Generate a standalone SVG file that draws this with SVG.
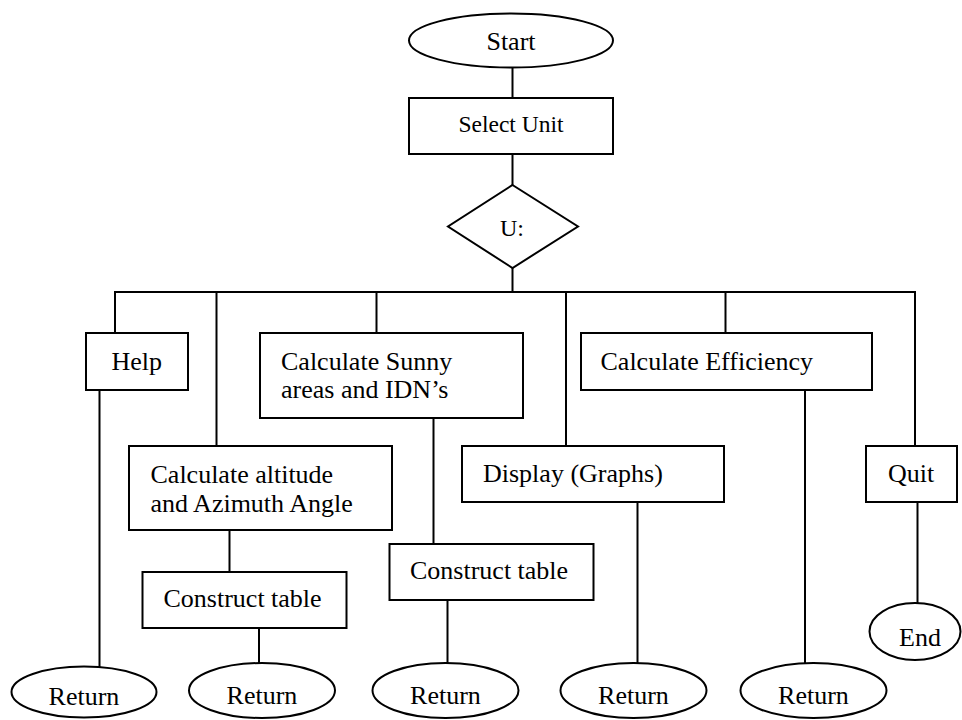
<svg xmlns="http://www.w3.org/2000/svg" width="962" height="720" viewBox="0 0 962 720">
<style>
.s{fill:#fff;stroke:#000;stroke-width:2}
.c line{stroke:#000;stroke-width:2}
text{font-family:"Liberation Serif","Times New Roman",serif;font-size:26px;fill:#000}
.m{text-anchor:middle}
</style>
<rect width="962" height="720" fill="#fff"/>
<g class="c" id="connectors">
<line x1="512.5" y1="67" x2="512.5" y2="98"/>
<line x1="512.5" y1="154" x2="512.5" y2="185"/>
<line x1="512.5" y1="268" x2="512.5" y2="292"/>
<line x1="114" y1="292" x2="916" y2="292"/>
<line x1="115" y1="292" x2="115" y2="333"/>
<line x1="216.5" y1="292" x2="216.5" y2="446"/>
<line x1="376.5" y1="292" x2="376.5" y2="333"/>
<line x1="566" y1="292" x2="566" y2="446"/>
<line x1="725.5" y1="292" x2="725.5" y2="333"/>
<line x1="915" y1="292" x2="915" y2="446"/>
<line x1="99.5" y1="390" x2="99.5" y2="667"/>
<line x1="229.5" y1="530" x2="229.5" y2="572"/>
<line x1="259" y1="628" x2="259" y2="663"/>
<line x1="433.5" y1="418" x2="433.5" y2="544"/>
<line x1="447.5" y1="600" x2="447.5" y2="663"/>
<line x1="637.5" y1="502" x2="637.5" y2="663"/>
<line x1="805" y1="390" x2="805" y2="663"/>
<line x1="917.5" y1="502" x2="917.5" y2="603"/>
</g>
<g id="start"><ellipse class="s" cx="511" cy="40.5" rx="102" ry="27"/><text class="m" x="511" y="50">Start</text></g>
<g id="select-unit"><rect class="s" x="409" y="98" width="204" height="56"/><text class="m" x="511" y="132" style="font-size:23.5px">Select Unit</text></g>
<g id="decision"><polygon class="s" points="512.5,185 578,226.5 512.5,268 448,226.5"/><text class="m" x="512" y="236" style="font-size:24px">U:</text></g>
<g id="help"><rect class="s" x="86" y="333" width="102" height="57"/><text x="111.5" y="370">Help</text></g>
<g id="calc-sunny"><rect class="s" x="260" y="333" width="263" height="85"/><text x="281" y="370">Calculate Sunny</text><text x="281" y="398">areas and IDN’s</text></g>
<g id="calc-eff"><rect class="s" x="581" y="333" width="291" height="57"/><text x="600.5" y="370">Calculate Efficiency</text></g>
<g id="calc-alt"><rect class="s" x="129" y="446" width="263" height="84"/><text x="150.5" y="483">Calculate altitude</text><text x="150.5" y="512">and Azimuth Angle</text></g>
<g id="display"><rect class="s" x="462" y="446" width="262" height="56"/><text x="483" y="482">Display (Graphs)</text></g>
<g id="quit"><rect class="s" x="866" y="446" width="91" height="56"/><text x="888" y="482">Quit</text></g>
<g id="construct1"><rect class="s" x="142.5" y="572" width="204" height="56"/><text x="163.5" y="607">Construct table</text></g>
<g id="construct2"><rect class="s" x="389.5" y="544" width="204" height="56"/><text x="410" y="579">Construct table</text></g>
<g id="end"><ellipse class="s" cx="915" cy="631.5" rx="45.5" ry="28.5"/><text class="m" x="920" y="646">End</text></g>
<g id="return1"><ellipse class="s" cx="84" cy="692" rx="72.5" ry="25.5"/><text class="m" x="84" y="705">Return</text></g>
<g id="return2"><ellipse class="s" cx="262" cy="690.5" rx="73" ry="27.5"/><text class="m" x="262" y="704">Return</text></g>
<g id="return3"><ellipse class="s" cx="445.5" cy="690.5" rx="73" ry="27.5"/><text class="m" x="445.5" y="704">Return</text></g>
<g id="return4"><ellipse class="s" cx="633.5" cy="690.5" rx="73" ry="27.5"/><text class="m" x="633.5" y="704">Return</text></g>
<g id="return5"><ellipse class="s" cx="813.5" cy="690.5" rx="73" ry="27.5"/><text class="m" x="813.5" y="704">Return</text></g>
</svg>
